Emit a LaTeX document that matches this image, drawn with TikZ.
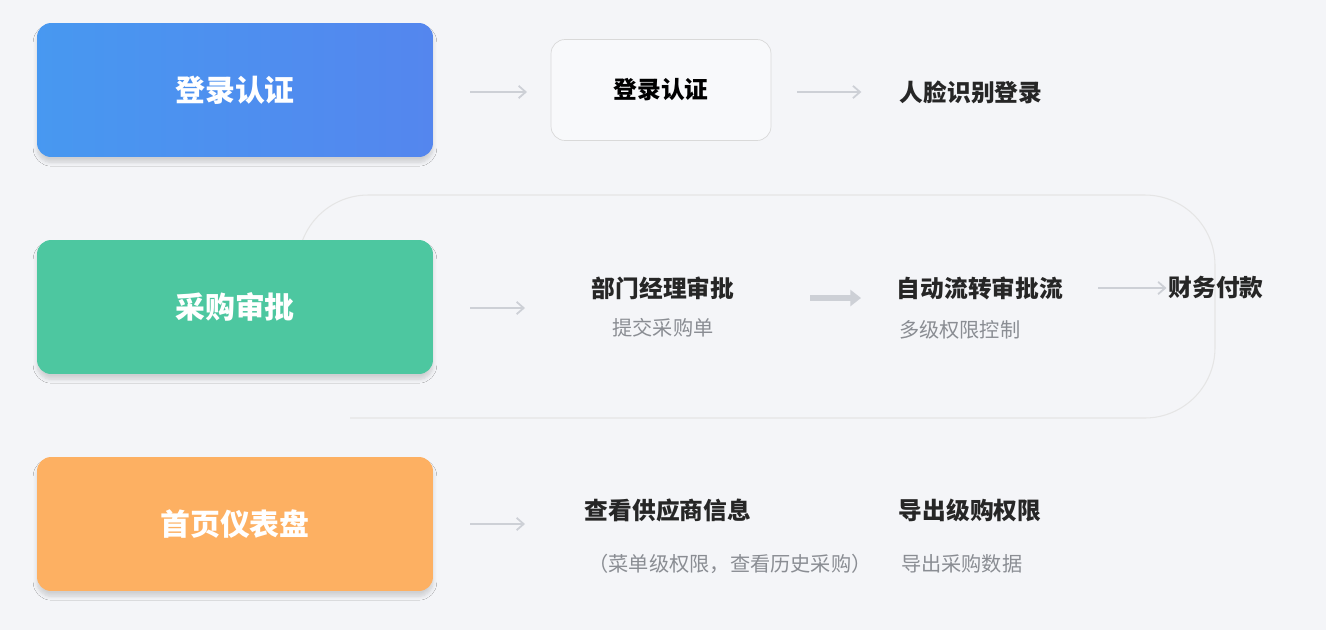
\documentclass[tikz,border=0pt]{standalone}
\usepackage{fontspec}
\setmainfont{Noto Sans CJK SC}
\usetikzlibrary{arrows.meta, positioning, shadows.blur}
\definecolor{bgcol}{HTML}{F4F5F8}
\definecolor{bluecol}{HTML}{5486EE}
\definecolor{greencol}{HTML}{4DC7A0}
\definecolor{orangecol}{HTML}{FDB062}
\definecolor{arrowcol}{HTML}{CDD0D6}
\definecolor{subcol}{HTML}{8A8D93}
\tikzset{
  stagebox/.style = {rounded corners=8pt, minimum width=7.92cm, minimum height=2.68cm,
    text=white, font=\fontsize{17}{20}\selectfont\bfseries, inner sep=0pt,
    blur shadow={shadow blur steps=6, shadow xshift=0pt, shadow yshift=-3pt, shadow opacity=15}},
  steptext/.style = {font=\fontsize{13.5}{16}\selectfont\bfseries, text=black!85, inner sep=1pt},
  subtext/.style = {font=\fontsize{11.5}{14}\selectfont, text=subcol, inner sep=1pt},
  flow/.style = {-{Straight Barb[length=4pt, width=7pt]}, arrowcol, line width=1pt},
  flowbold/.style = {-{Triangle[length=6pt, width=9pt]}, arrowcol, line width=3pt}
}
\begin{document}
\begin{tikzpicture}[x=0.02cm, y=-0.02cm]
  \useasboundingbox[fill=bgcol] (0,0) rectangle (1326,630);

  % loop behind the approval row
  \draw[black!10, line width=0.6pt, rounded corners=40pt] (298,240) -- (298,195) -- (1215,195) -- (1215,418) -- (350,418);

  % stage boxes
  \node[stagebox, left color=bluecol!85!cyan, right color=bluecol] (login) at (235,90) {登录认证};
  \node[stagebox, fill=greencol] (purchase) at (235,307) {采购审批};
  \node[stagebox, fill=orangecol] (dash) at (235,524) {首页仪表盘};

  % row 1
  \coordinate (a1) at (470,92);
  \node[draw=black!15, fill=bgcol!60!white, rounded corners=8pt, minimum width=4.4cm, minimum height=2.02cm,
    font=\fontsize{13.5}{16}\selectfont\bfseries] (auth) at (661,90) {登录认证};
  \node[steptext] (face) at (971,92) {人脸识别登录};
  \draw[flow] (a1) -- ++(57,0);
  \draw[flow] (auth.east) ++(26,2) coordinate (a2) -- ++(64,0);

  % row 2
  \node[steptext] (mgr) at (663,288) {部门经理审批};
  \node[subtext, below=0.8cm of mgr.center, anchor=center] (submit) {提交采购单};
  \node[steptext] (auto) at (980,288) {自动流转审批流};
  \node[subtext, anchor=west] (multi) at (897,330) {多级权限控制};
  \node[steptext] (pay) at (1216,288) {财务付款};
  \coordinate (b1) at (470,308);
  \draw[flow] (b1) -- ++(55,0);
  \coordinate (b2) at (810,298);
  \draw[flowbold] (b2) -- ++(51,0);
  \coordinate (b3) at (1098,288);
  \draw[flow] (b3) -- (pay.west);

  % row 3
  \node[steptext] (view) at (668,510) {查看供应商信息};
  \node[subtext] (viewsub) at (730,564) {（菜单级权限，查看历史采购）};
  \node[steptext] (export) at (970,510) {导出级购权限};
  \node[subtext, anchor=west] (exportsub) at (899,564) {导出采购数据};
  \coordinate (c1) at (470,524);
  \draw[flow] (c1) -- ++(55,0);
\end{tikzpicture}
\end{document}
